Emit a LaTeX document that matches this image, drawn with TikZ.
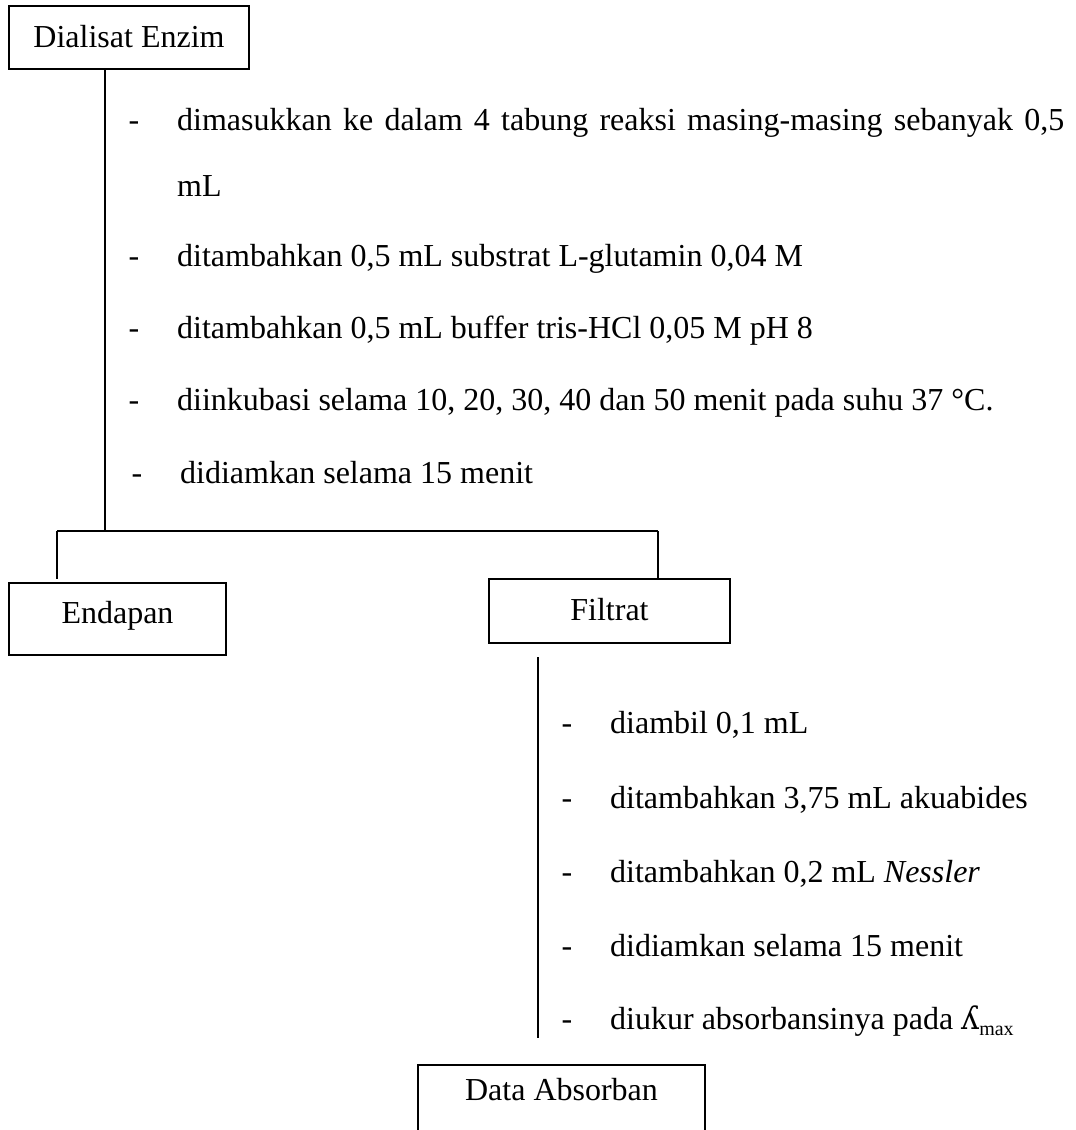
\documentclass[tikz,border=0pt]{standalone}
\usepackage{fontspec}
\setmainfont{Liberation Serif}
\newfontfamily\dvs{DejaVu Serif}
\begin{document}
\begin{tikzpicture}[x=1pt,y=-1pt, font=\fontsize{32}{38}\selectfont,
  box/.style={draw, line width=1.6pt, inner sep=0pt, text height=22pt},
  conn/.style={line width=1.1pt},
  txt/.style={inner sep=0pt, anchor=base west},
  dsh/.style={inner sep=0pt, anchor=base}]
\useasboundingbox (0,0) rectangle (1076,1130);
\fill[white] (0,0) rectangle (1076,1130);

% boxes
\node[box, minimum width=240pt, minimum height=63pt, text depth=3pt] (dial) at (129,37.5) {Dialisat Enzim};
\node[box, minimum width=217pt, minimum height=72pt, text depth=14pt] (endapan) at (117.5,619) {Endapan};
\node[box, minimum width=241pt, minimum height=64pt, text depth=4pt] (filtrat) at (609.5,611) {Filtrat};
\node[box, minimum width=287pt, minimum height=80pt, text depth=32pt] (data) at (561.5,1105) {Data Absorban};

% left steps
\node[dsh] (d1) at (134,130) {-};
\node[txt] (t1) at (177,130) {\makebox[887pt][s]{dimasukkan ke dalam 4 tabung reaksi masing-masing sebanyak 0,5}};
\node[txt] (t1b) at (177,196) {mL};
\node[dsh] (d2) at (134,266) {-};
\node[txt] (t2) at (177,266) {ditambahkan 0,5 mL substrat L-glutamin 0,04 M};
\node[dsh] (d3) at (134,338) {-};
\node[txt] (t3) at (177,338) {ditambahkan 0,5 mL buffer tris-HCl 0,05 M pH 8};
\node[dsh] (d4) at (134,410) {-};
\node[txt] (t4) at (177,410) {diinkubasi selama 10, 20, 30, 40 dan 50 menit pada suhu 37 °C.};
\node[dsh] (d5) at (137,483) {-};
\node[txt] (t5) at (180,483) {didiamkan selama 15 menit};

% right steps
\node[dsh] (r1d) at (567,733) {-};
\node[txt] (r1) at (610,733) {diambil 0,1 mL};
\node[dsh] (r2d) at (567,808) {-};
\node[txt] (r2) at (610,808) {ditambahkan 3,75 mL akuabides};
\node[dsh] (r3d) at (567,882) {-};
\node[txt] (r3) at (610,882) {ditambahkan 0,2 mL \textit{Nessler}};
\node[dsh] (r4d) at (567,956) {-};
\node[txt] (r4) at (610,956) {didiamkan selama 15 menit};
\node[dsh] (r5d) at (567,1029) {-};
\node[txt] (r5) at (610,1029) {diukur absorbansinya pada {\dvs ʎ}\raisebox{-6pt}{\fontsize{20}{20}\selectfont max}};

% connectors
\coordinate (j1) at (105,531);
\coordinate (jL) at (57,531);
\coordinate (jR) at (658,531);
\coordinate (eL) at (57,579);
\coordinate (f1) at (538,657);
\coordinate (f2) at (538,1038);
\draw[conn] (dial.south -| j1) -- (j1);
\draw[conn] (jL) -- (jR);
\draw[conn] (jL) -- (eL);
\draw[conn] (jR) -- (jR |- filtrat.north);
\draw[conn] (f1) -- (f2);
\end{tikzpicture}
\end{document}
